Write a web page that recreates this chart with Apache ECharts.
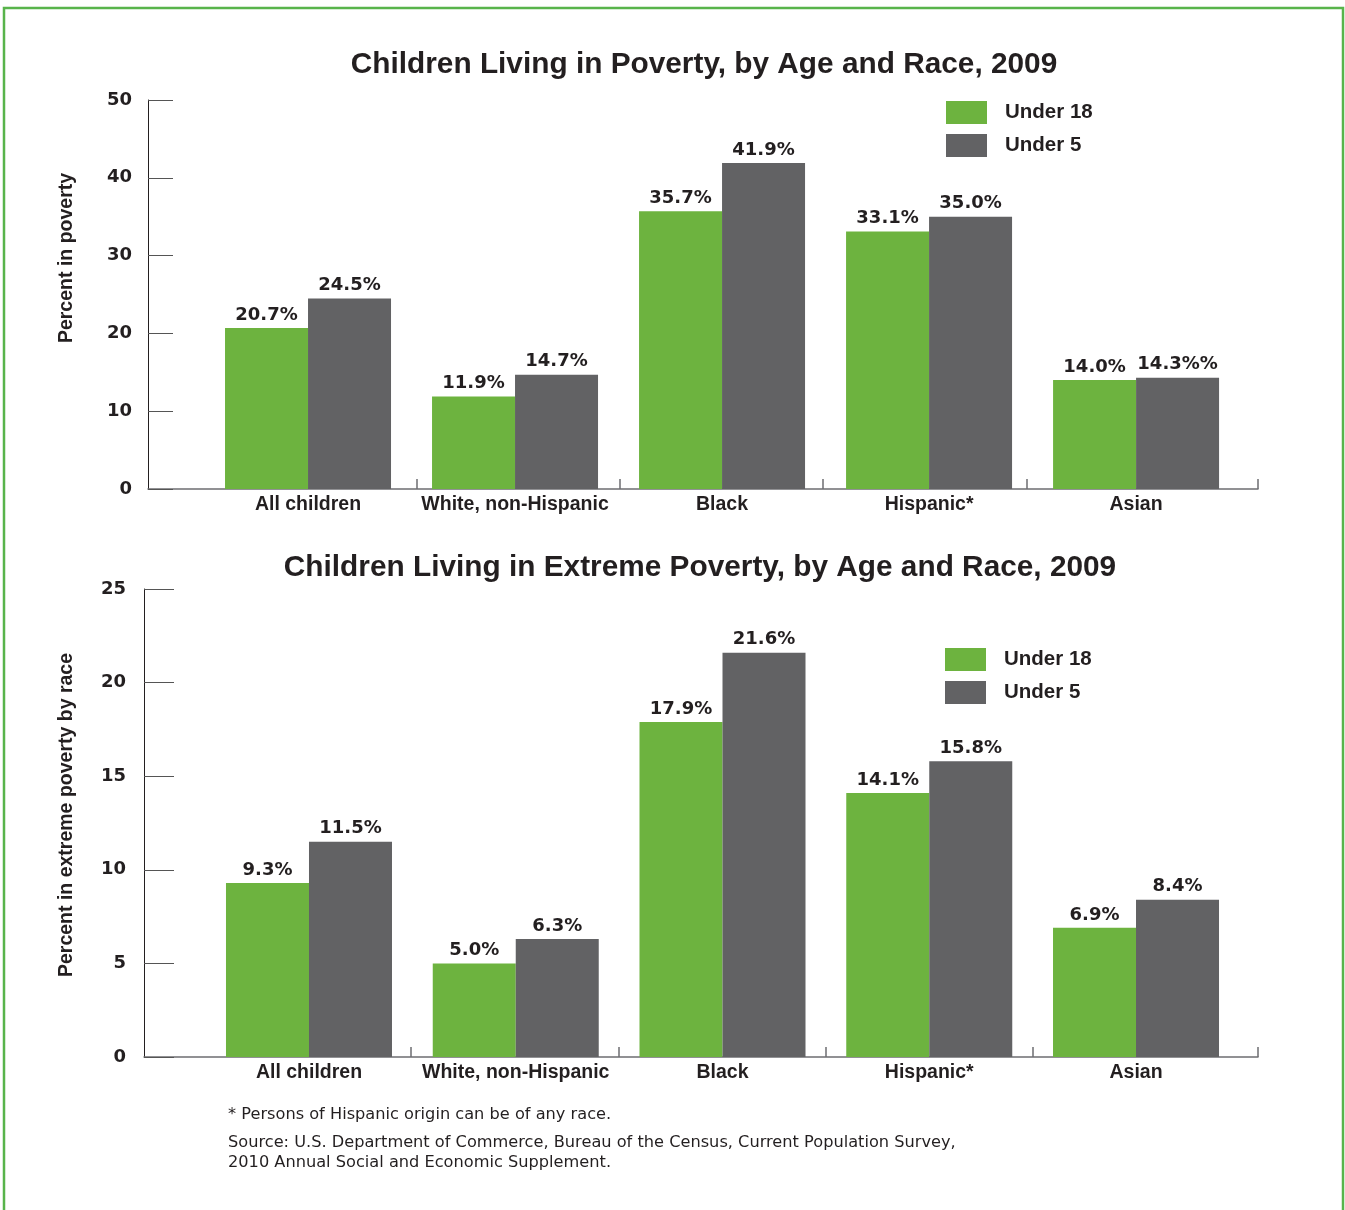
<!DOCTYPE html>
<html>
<head>
<meta charset="utf-8">
<script src="https://cdn.jsdelivr.net/npm/echarts@6/dist/echarts.min.js"></script>
<style>
  html, body { margin: 0; padding: 0; background: #ffffff; }
  #chart { width: 1345px; height: 1210px; }
</style>
</head>
<body>
<div id="chart"></div>
<script>
// Categories and values (percent of children)
const categories = ['All children', 'White, non-Hispanic', 'Black', 'Hispanic*', 'Asian'];
const seriesNames = ['Under 18', 'Under 5'];

const povertyUnder18 = [20.7, 11.9, 35.7, 33.1, 14.0];
const povertyUnder5  = [24.5, 14.7, 41.9, 35.0, 14.3];
const extremeUnder18 = [9.3, 5.0, 17.9, 14.1, 6.9];
const extremeUnder5  = [11.5, 6.3, 21.6, 15.8, 8.4];

// Value-label suffixes (the Asian under-5 label is printed with a doubled sign)
const plainSuffix = ['%', '%', '%', '%', '%'];
const povertyUnder5Suffix = ['%', '%', '%', '%', '%%'];

// Y-axis tick labels
const povertyTicks = [0, 10, 20, 30, 40, 50];
const extremeTicks = [0, 5, 10, 15, 20, 25];

const SANS = '"Liberation Sans", Arial, sans-serif';
const WIDE = '"DejaVu Sans", sans-serif';
const TEXT = '#231f20';
const GREEN = '#6db33f';
const GRAY = '#626264';

function barSeries(name, values, suffix, color, axisIndex) {
  return {
    type: 'bar',
    name: name,
    xAxisIndex: axisIndex,
    yAxisIndex: axisIndex,
    data: values.map((v, i) => [i, v]),
    barWidth: 83,
    barGap: '0%',
    itemStyle: { color: color },
    label: {
      show: true,
      position: 'top',
      distance: 4,
      color: TEXT,
      fontFamily: WIDE,
      fontWeight: 'bold',
      fontSize: 18,
      formatter: p => p.value[1].toFixed(1) + suffix[p.dataIndex]
    },
    emphasis: { disabled: true }
  };
}

function xAxis(gridIndex, min, max, tickValues) {
  return {
    gridIndex: gridIndex,
    type: 'value',
    min: min,
    max: max,
    splitLine: { show: false },
    axisLine: { show: true, onZero: false, lineStyle: { color: '#6d6e71', width: 1.5 } },
    axisTick: {
      show: true, inside: true, length: 10,
      customValues: tickValues.concat([max]),
      lineStyle: { color: '#6d6e71', width: 1.5 }
    },
    axisLabel: {
      customValues: categories.map((c, i) => i),
      formatter: v => categories[Math.round(v)],
      margin: 6,
      fontFamily: SANS,
      fontWeight: 'bold',
      fontSize: 19.5,
      color: TEXT
    }
  };
}

function yAxis(gridIndex, ticks, tickLen, labelMargin) {
  return {
    gridIndex: gridIndex,
    type: 'value',
    min: ticks[0],
    max: ticks[ticks.length - 1],
    interval: ticks[1] - ticks[0],
    splitLine: { show: false },
    axisLine: { show: true, onZero: false, lineStyle: { color: TEXT, width: 1 } },
    axisTick: { show: true, inside: true, length: tickLen, lineStyle: { color: '#555', width: 1 } },
    axisLabel: {
      margin: labelMargin,
      fontFamily: WIDE,
      fontWeight: 'bold',
      fontSize: 18,
      color: TEXT
    }
  };
}

function legend(left, top) {
  return {
    data: seriesNames,
    orient: 'vertical',
    left: left,
    top: top,
    padding: 0,
    icon: 'rect',
    itemWidth: 41,
    itemHeight: 23,
    itemGap: 10,
    selectedMode: false,
    textStyle: {
      fontFamily: SANS, fontWeight: 'bold', fontSize: 20.5, color: TEXT,
      padding: [0, 0, 0, 13]
    }
  };
}

function label(text, x, y, opts) {
  return Object.assign({
    type: 'text', x: x, y: y, silent: true,
    style: Object.assign({
      text: text, fill: TEXT, fontFamily: SANS,
      align: 'left', verticalAlign: 'middle'
    }, opts.style)
  }, opts.el || {});
}

const chart = echarts.init(document.getElementById('chart'), null, { renderer: 'canvas' });

chart.setOption({
  animation: false,
  backgroundColor: '#ffffff',
  grid: [
    { left: 148, top: 100, width: 1110, height: 389 },
    { left: 144, top: 589, width: 1114, height: 468 }
  ],
  xAxis: [
    xAxis(0, -0.773, 4.589, [0.527, 1.507, 2.488, 3.473]),
    xAxis(1, -0.798, 4.59, [0.49, 1.5, 2.5, 3.5])
  ],
  yAxis: [
    yAxis(0, povertyTicks, 25, 16),
    yAxis(1, extremeTicks, 30, 18)
  ],
  legend: [legend(946, 101), legend(945, 648)],
  series: [
    barSeries(seriesNames[0], povertyUnder18, plainSuffix, GREEN, 0),
    barSeries(seriesNames[1], povertyUnder5, povertyUnder5Suffix, GRAY, 0),
    barSeries(seriesNames[0], extremeUnder18, plainSuffix, GREEN, 1),
    barSeries(seriesNames[1], extremeUnder5, plainSuffix, GRAY, 1)
  ],
  graphic: [
    // green frame, open at the bottom edge of the page
    {
      type: 'rect', silent: true,
      shape: { x: 4, y: 8, width: 1339, height: 1260 },
      style: { fill: null, stroke: '#58b44b', lineWidth: 2.5 }
    },
    label('Children Living in Poverty, by Age and Race, 2009', 704, 65,
      { style: { align: 'center', fontSize: 29.8, fontWeight: 'bold' } }),
    label('Children Living in Extreme Poverty, by Age and Race, 2009', 700, 568,
      { style: { align: 'center', fontSize: 29.8, fontWeight: 'bold' } }),
    label('Percent in poverty', 67, 258,
      { style: { align: 'center', fontSize: 19.5, fontWeight: 'bold' }, el: { rotation: Math.PI / 2 } }),
    label('Percent in extreme poverty by race', 67, 815,
      { style: { align: 'center', fontSize: 19.5, fontWeight: 'bold' }, el: { rotation: Math.PI / 2 } }),
    label('* Persons of Hispanic origin can be of any race.', 228, 1115,
      { style: { fontSize: 16.2, fontFamily: WIDE } }),
    label('Source: U.S. Department of Commerce, Bureau of the Census, Current Population Survey,', 228, 1143,
      { style: { fontSize: 16.2, fontFamily: WIDE } }),
    label('2010 Annual Social and Economic Supplement.', 228, 1163,
      { style: { fontSize: 16.2, fontFamily: WIDE } })
  ]
});
</script>
</body>
</html>
